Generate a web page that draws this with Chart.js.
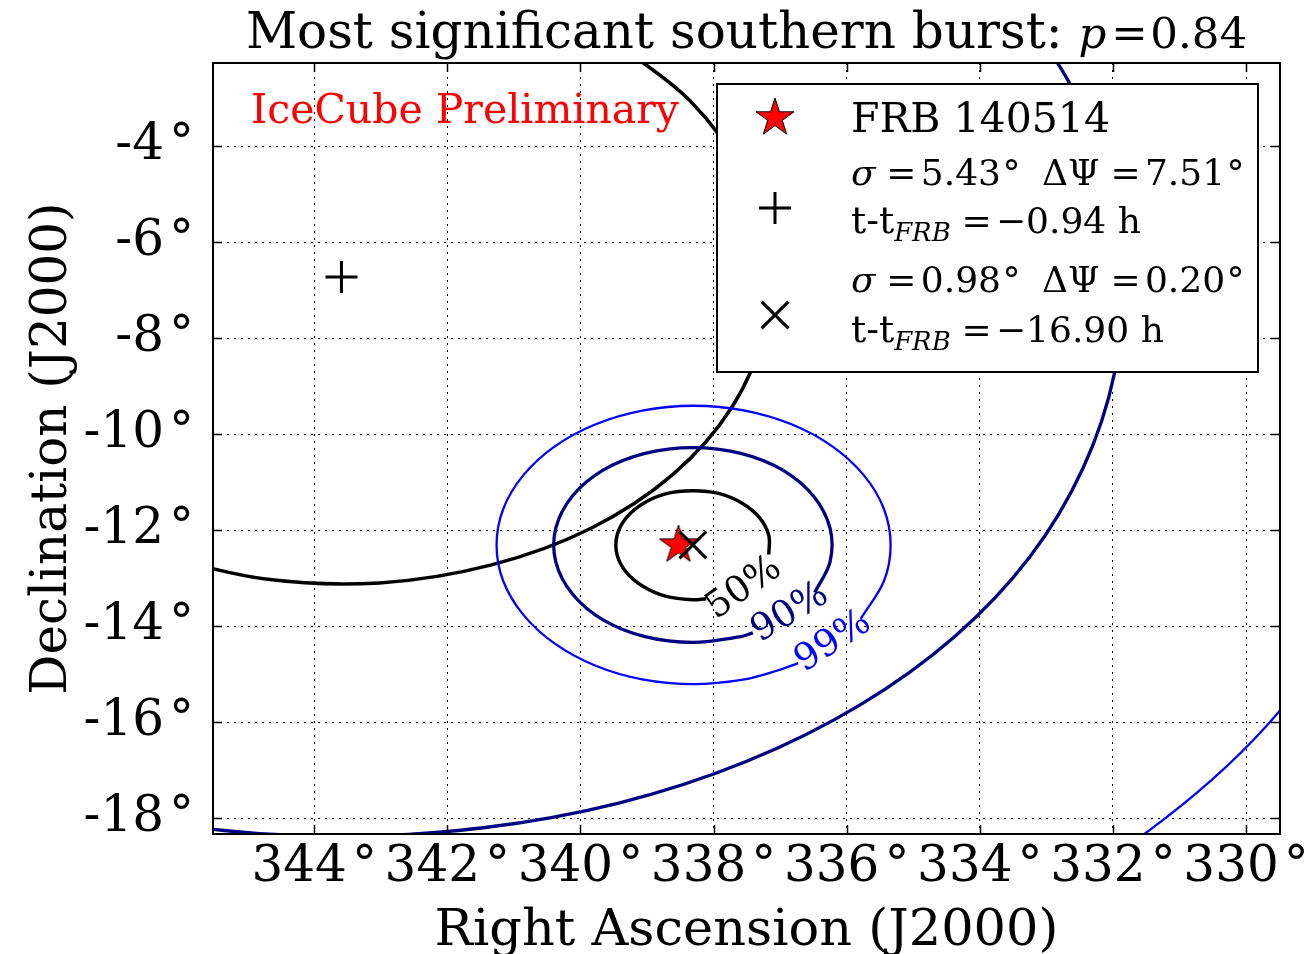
<!DOCTYPE html>
<html>
<head>
<meta charset="utf-8">
<title>Most significant southern burst</title>
<script src="https://cdn.jsdelivr.net/npm/chart.js@4.4.1/dist/chart.umd.min.js"></script>
<style>
  html, body { margin: 0; padding: 0; background: #fff; }
  #wrap { width: 1310px; height: 954px; }
</style>
</head>
<body>
<div id="wrap"><canvas id="skyChart" width="1310" height="954"></canvas></div>
<script>
// axis ticks (degrees)
const raTicks = [344, 342, 340, 338, 336, 334, 332, 330];
const decTicks = [-4, -6, -8, -10, -12, -14, -16, -18];

// burst position and the two neutrino events
const frbRa = [338.527];
const frbDec = [-12.313];
const wideEvtRa = [343.59];   // sigma 5.43, t-tFRB -0.94 h
const wideEvtDec = [-6.73];
const tightEvtRa = [338.31];  // sigma 0.98, t-tFRB -16.90 h
const tightEvtDec = [-12.31];

// containment contours of the tight event (open where the level label sits)
const tight50Ra = [337.17, 337.17, 337.31, 337.57, 337.91, 338.31, 338.71, 339.05, 339.31, 339.45, 339.45, 339.31, 339.05, 338.71, 338.31, 338.11];
const tight50Dec = [-12.51, -12.11, -11.74, -11.44, -11.24, -11.18, -11.24, -11.44, -11.74, -12.11, -12.51, -12.88, -13.18, -13.38, -13.45, -13.43];
const tight90Ra = [336.48, 336.25, 336.25, 336.50, 336.96, 337.59, 338.31, 339.03, 339.66, 340.12, 340.37, 340.37, 340.12, 339.66, 339.03, 338.31, 337.59, 337.41];
const tight90Dec = [-13.30, -12.66, -11.96, -11.29, -10.75, -10.40, -10.28, -10.40, -10.75, -11.29, -11.96, -12.66, -13.33, -13.87, -14.22, -14.34, -14.22, -14.14];
const tight99Ra = [335.79, 335.44, 335.34, 335.44, 335.74, 336.21, 336.82, 337.53, 338.30, 339.07, 339.78, 340.39, 340.86, 341.16, 341.26, 341.16, 340.86, 340.39, 339.78, 339.07, 338.30, 337.53, 337.05, 336.73];
const tight99Dec = [-13.85, -13.06, -12.31, -11.56, -10.86, -10.26, -9.80, -9.51, -9.41, -9.51, -9.80, -10.26, -10.86, -11.56, -12.31, -13.06, -13.76, -14.36, -14.82, -15.11, -15.21, -15.11, -14.93, -14.77];

// containment contours of the wide event (only the part inside the frame matters)
const wide50Ra = [339.48, 338.35, 337.57, 337.19, 337.24, 337.72, 338.61, 339.84, 341.35, 343.02, 344.73, 346.36];
const wide50Dec = [-1.84, -3.06, -4.54, -6.17, -7.84, -9.43, -10.84, -11.96, -12.73, -13.10, -13.02, -12.52];
const wide90Ra = [333.50, 332.63, 332.08, 331.86, 331.98, 332.45, 333.25, 334.38, 335.81, 337.51, 339.41, 341.46, 343.59, 345.72, 347.77];
const wide90Dec = [-0.91, -2.75, -4.71, -6.73, -8.75, -10.71, -12.56, -14.22, -15.65, -16.82, -17.68, -18.20, -18.38, -18.20, -17.68];
const wide99Ra = [327.91, 328.39, 328.99, 329.70, 330.52, 331.45, 332.49];
const wide99Dec = [-12.30, -13.62, -14.88, -16.09, -17.21, -18.25, -19.22];

const levelNames = ['50%', '90%', '99%'];

const serif = '"DejaVu Serif", "Liberation Serif", serif';
const NAVY = '#000080';
const BLUE = '#0000ff';

function pts(ra, dec) {
  return ra.map((r, i) => ({ x: r, y: dec[i] }));
}

function contour(ra, dec, color, width) {
  return {
    data: pts(ra, dec),
    showLine: true,
    borderColor: color,
    borderWidth: width,
    pointRadius: 0,
    tension: 0.35,
    fill: false
  };
}

// filled red star used for the burst marker
function makeStar(R) {
  const c = document.createElement('canvas');
  c.width = c.height = Math.ceil(2 * R + 4);
  const g = c.getContext('2d');
  const cx = c.width / 2, cy = c.height / 2;
  g.beginPath();
  for (let i = 0; i < 10; i++) {
    const rad = i % 2 === 0 ? R : R * 0.382;
    const ang = -Math.PI / 2 + i * Math.PI / 5;
    const px = cx + rad * Math.cos(ang), py = cy + rad * Math.sin(ang);
    if (i === 0) g.moveTo(px, py); else g.lineTo(px, py);
  }
  g.closePath();
  g.fillStyle = '#ff0000';
  g.fill();
  g.lineWidth = 1;
  g.strokeStyle = '#000';
  g.stroke();
  return c;
}
const starImg = makeStar(20);

function richText(ctx, x, y, parts, size) {
  let cx = x;
  parts.forEach(p => {
    const s = size * (p.k || 1);
    ctx.font = (p.it ? 'italic ' : '') + s + 'px ' + serif;
    cx += (p.before || 0) * size;
    ctx.fillText(p.t, cx, y + (p.dy || 0) * size);
    cx += ctx.measureText(p.t).width + (p.after || 0) * size;
  });
  return cx;
}

function richWidth(ctx, parts, size) {
  let w = 0;
  parts.forEach(p => {
    const s = size * (p.k || 1);
    ctx.font = (p.it ? 'italic ' : '') + s + 'px ' + serif;
    w += (p.before || 0) * size + ctx.measureText(p.t).width + (p.after || 0) * size;
  });
  return w;
}

function drawPlus(ctx, x, y, r) {
  ctx.beginPath();
  ctx.moveTo(x - r, y); ctx.lineTo(x + r, y);
  ctx.moveTo(x, y - r); ctx.lineTo(x, y + r);
  ctx.stroke();
}

function drawCross(ctx, x, y, r) {
  const d = r * Math.SQRT1_2;
  ctx.beginPath();
  ctx.moveTo(x - d, y - d); ctx.lineTo(x + d, y + d);
  ctx.moveTo(x + d, y - d); ctx.lineTo(x - d, y + d);
  ctx.stroke();
}

const deg = { t: '°', before: 0.04 };
const eq = { t: '=', before: 0.3, after: 0.12 };

const overlay = {
  id: 'skyOverlay',
  afterDraw(chart) {
    const { ctx, chartArea: a, scales: { x, y } } = chart;
    ctx.save();
    ctx.textAlign = 'left';
    ctx.textBaseline = 'alphabetic';

    // contour level labels, set into the gaps of the tight contours
    const levelAnchors = [
      { ra: 337.54, dec: -13.21, rot: -35, color: '#000' },
      { ra: 336.85, dec: -13.73, rot: -31, color: NAVY },
      { ra: 336.20, dec: -14.33, rot: -33, color: BLUE }
    ];
    levelAnchors.forEach((l, i) => {
      ctx.save();
      ctx.translate(x.getPixelForValue(l.ra), y.getPixelForValue(l.dec));
      ctx.rotate(l.rot * Math.PI / 180);
      ctx.font = '37px ' + serif;
      ctx.fillStyle = l.color;
      ctx.textAlign = 'center';
      ctx.textBaseline = 'middle';
      ctx.fillText(levelNames[i], 0, 0);
      ctx.restore();
    });

    ctx.fillStyle = '#ff0000';
    ctx.font = '41px ' + serif;
    ctx.fillText('IceCube Preliminary', a.left + 38, a.top + 60);

    // frame and inward tick marks
    ctx.strokeStyle = '#000';
    ctx.lineWidth = 2;
    ctx.strokeRect(a.left, a.top, a.right - a.left, a.bottom - a.top);
    ctx.lineWidth = 1.5;
    ctx.beginPath();
    raTicks.forEach(v => {
      const px = Math.round(x.getPixelForValue(v)) + 0.5;
      ctx.moveTo(px, a.bottom); ctx.lineTo(px, a.bottom - 9);
      ctx.moveTo(px, a.top); ctx.lineTo(px, a.top + 9);
    });
    decTicks.forEach(v => {
      const py = Math.round(y.getPixelForValue(v)) + 0.5;
      ctx.moveTo(a.left, py); ctx.lineTo(a.left + 9, py);
      ctx.moveTo(a.right, py); ctx.lineTo(a.right - 9, py);
    });
    ctx.stroke();

    // legend
    const L = { left: a.left + 504, top: a.top + 21, w: 541, h: 288 };
    ctx.fillStyle = '#fff';
    ctx.fillRect(L.left, L.top, L.w, L.h);
    ctx.lineWidth = 2;
    ctx.strokeStyle = '#000';
    ctx.strokeRect(L.left, L.top, L.w, L.h);

    const mx = L.left + 58;
    ctx.drawImage(starImg, mx - starImg.width / 2, L.top + 34 - starImg.height / 2);
    ctx.lineWidth = 3;
    drawPlus(ctx, mx, L.top + 124, 16);
    drawCross(ctx, mx, L.top + 231, 19);

    ctx.fillStyle = '#000';
    const tx = L.left + 134;
    const ms = 36;
    richText(ctx, tx, L.top + 48, [{ t: 'FRB 140514' }], 41);
    richText(ctx, tx, L.top + 101, [{ t: 'σ', it: true }, eq, { t: '5.43' }, deg,
      { t: 'ΔΨ', before: 0.6 }, eq, { t: '7.51' }, deg], ms);
    richText(ctx, tx, L.top + 149, [{ t: 't-t', k: 1.05 }, { t: 'FRB', it: true, k: 0.72, dy: 0.22 },
      eq, { t: '−0.94' }, { t: 'h', before: 0.32 }], ms);
    richText(ctx, tx, L.top + 208, [{ t: 'σ', it: true }, eq, { t: '0.98' }, deg,
      { t: 'ΔΨ', before: 0.6 }, eq, { t: '0.20' }, deg], ms);
    richText(ctx, tx, L.top + 258, [{ t: 't-t', k: 1.05 }, { t: 'FRB', it: true, k: 0.72, dy: 0.22 },
      eq, { t: '−16.90' }, { t: 'h', before: 0.32 }], ms);

    // title and axis titles
    const titleParts = [{ t: 'Most significant southern burst: ' }, { t: 'p', it: true, k: 0.87 },
      { t: '=', k: 0.87, before: 0.1, after: 0.05 }, { t: '0.84', k: 0.87 }];
    const tw = richWidth(ctx, titleParts, 50);
    richText(ctx, (a.left + a.right) / 2 - tw / 2, 48, titleParts, 50);

    ctx.textAlign = 'center';
    ctx.font = '51px ' + serif;
    ctx.fillText('Right Ascension (J2000)', (a.left + a.right) / 2, 945);
    ctx.save();
    ctx.translate(66, (a.top + a.bottom) / 2);
    ctx.rotate(-Math.PI / 2);
    ctx.font = '50px ' + serif;
    ctx.fillText('Declination (J2000)', 0, 0);
    ctx.restore();

    ctx.restore();
  }
};

const tickFont = { family: serif, size: 50 };

new Chart(document.getElementById('skyChart'), {
  type: 'scatter',
  data: {
    datasets: [
      {
        data: pts(tightEvtRa, tightEvtDec),
        pointStyle: 'crossRot', pointRadius: 19,
        pointBorderColor: '#000', pointBorderWidth: 3, pointBackgroundColor: '#000'
      },
      {
        data: pts(frbRa, frbDec),
        pointStyle: starImg, pointRadius: 20
      },
      {
        data: pts(wideEvtRa, wideEvtDec),
        pointStyle: 'cross', pointRadius: 16,
        pointBorderColor: '#000', pointBorderWidth: 3, pointBackgroundColor: '#000'
      },
      contour(tight50Ra, tight50Dec, '#000', 3.5),
      contour(tight90Ra, tight90Dec, NAVY, 3.3),
      contour(tight99Ra, tight99Dec, BLUE, 2.3),
      contour(wide50Ra, wide50Dec, '#000', 3.5),
      contour(wide90Ra, wide90Dec, NAVY, 3.3),
      contour(wide99Ra, wide99Dec, BLUE, 2.3)
    ]
  },
  options: {
    responsive: false,
    animation: false,
    events: [],
    layout: { padding: { top: 63, right: 30, left: 0, bottom: 0 } },
    plugins: {
      legend: { display: false },
      tooltip: { enabled: false },
      title: { display: false }
    },
    scales: {
      x: {
        type: 'linear',
        reverse: true,
        min: 329.49,
        max: 345.52,
        afterBuildTicks: s => { s.ticks = raTicks.map(v => ({ value: v })); },
        afterFit: s => { s.height = 120; s.paddingLeft = 0; s.paddingRight = 0; },
        grid: { color: '#000', lineWidth: 1, drawTicks: false, tickLength: 0, borderDash: [2, 5] },
        border: { display: false, dash: [2, 5] },
        ticks: {
          font: tickFont, color: '#000', padding: 4,
          maxRotation: 0, autoSkip: false,
          callback: v => `${v}\u200a°`
        }
      },
      y: {
        type: 'linear',
        min: -18.33,
        max: -2.27,
        afterBuildTicks: s => { s.ticks = decTicks.map(v => ({ value: v })); },
        afterFit: s => { s.width = 213; s.paddingTop = 0; s.paddingBottom = 0; },
        grid: { color: '#000', lineWidth: 1, drawTicks: false, tickLength: 0, borderDash: [2, 5] },
        border: { display: false, dash: [2, 5] },
        ticks: {
          font: tickFont, color: '#000', padding: 19,
          autoSkip: false,
          callback: v => `${v}\u200a°`
        }
      }
    }
  },
  plugins: [overlay]
});
</script>
</body>
</html>
